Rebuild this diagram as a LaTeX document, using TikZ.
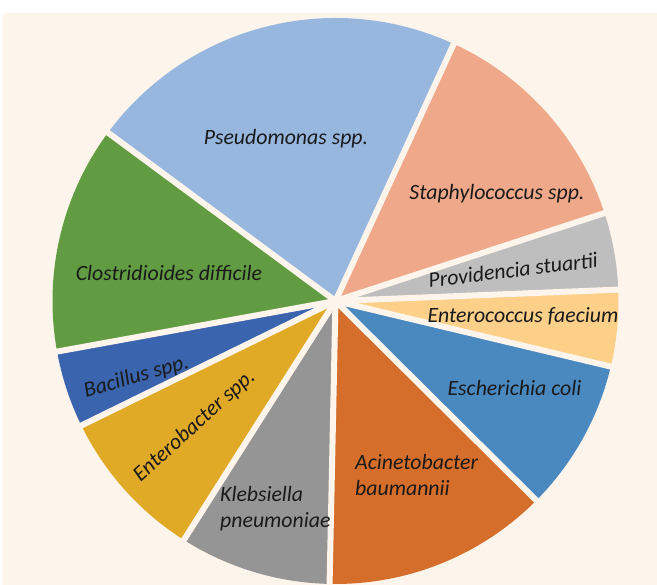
\documentclass[tikz,border=0pt]{standalone}
\usepackage{fontspec}
\setmainfont{Carlito}
\definecolor{cream}{HTML}{FDF4EB}
\definecolor{cPseudo}{HTML}{98B7DF}
\definecolor{cStaph}{HTML}{F0A88A}
\definecolor{cProv}{HTML}{BFBEBE}
\definecolor{cEnteroc}{HTML}{FDD08A}
\definecolor{cEcoli}{HTML}{4A88C0}
\definecolor{cAcin}{HTML}{D56E2A}
\definecolor{cKleb}{HTML}{959595}
\definecolor{cEntb}{HTML}{E0AA27}
\definecolor{cBac}{HTML}{3A64AE}
\definecolor{cClos}{HTML}{619C43}
\definecolor{txt}{HTML}{1A1A1A}
\begin{document}
\begin{tikzpicture}[x=1pt,y=1pt,
  lbl/.style={font=\fontsize{21.8}{26}\selectfont\itshape, text=txt, inner sep=0pt},
  gapline/.style={draw=cream, line width=6pt, line cap=butt}]
\def\R{283}
% canvas
\fill[white] (-335.5,-284) rectangle (321.5,301);
\fill[cream] (-332.5,-284) rectangle (321.5,288);
\useasboundingbox (-335.5,-284) rectangle (321.5,301);
\coordinate (c) at (0,0);
% slices
\foreach \a/\b/\col in {143.5/65.3/cPseudo, 65.3/18.1/cStaph, 18.1/2.3/cProv, 2.3/-13.4/cEnteroc, -13.4/-44.8/cEcoli, -44.8/-91.2/cAcin, -91.2/-122.4/cKleb, -122.4/-153.9/cEntb, -153.9/-169.7/cBac, -169.7/-216.5/cClos}{
  \fill[\col] (c) -- (\a:\R) arc[start angle=\a, end angle=\b, radius=\R] -- cycle;
}
% gaps
\foreach \a [count=\i] in {143.5,65.3,18.1,2.3,-13.4,-44.8,-91.2,-122.4,-153.9,-169.7}{
  \coordinate (g\i) at (\a:\R+8);
  \draw[gapline] (c) -- (g\i);
}
\fill[cream] (c) circle (3.5);
% labels
\node[lbl] (pseudo) at (-49.5,162) {Pseudomonas spp.};
\node[lbl] (staph) at (161.5,107) {Staphylococcus spp.};
\node[lbl, rotate=7] (prov) at (177.5,31) {Providencia stuartii};
\node[lbl] (enteroc) at (187.5,-15) {Enterococcus faecium};
\node[lbl] (ecoli) at (179,-87) {Escherichia coli};
\node[lbl, anchor=west, align=left] (acin) at (19.5,-174) {Acinetobacter\\baumannii};
\node[lbl, anchor=west, align=left] (kleb) at (-115.5,-207.5) {Klebsiella\\pneumoniae};
\node[lbl, rotate=42] (entb) at (-141,-125) {Enterobacter spp.};
\node[lbl, rotate=16] (bac) at (-199,-76) {Bacillus spp.};
\node[lbl] (clos) at (-166.5,27.5) {Clostridioides difficile};
\end{tikzpicture}
\end{document}
